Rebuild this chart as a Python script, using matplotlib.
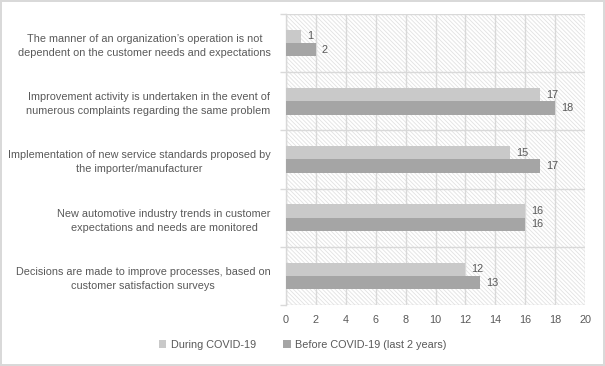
import matplotlib
matplotlib.use('Agg')
import matplotlib.pyplot as plt
import numpy as np
from matplotlib.patches import Rectangle

categories = [
    'The manner of an organization\u2019s operation is not\ndependent on the customer needs and expectations',
    'Improvement activity is undertaken in the event of\nnumerous complaints regarding the same problem',
    'Implementation of new service standards proposed by\nthe importer/manufacturer',
    'New automotive industry trends in customer\nexpectations and needs are monitored',
    'Decisions are made to improve processes, based on\ncustomer satisfaction surveys',
]
during = [1, 17, 15, 16, 12]
before = [2, 18, 17, 16, 13]
series_names = ['During COVID-19', 'Before COVID-19 (last 2 years)']
xticks = list(range(0, 21, 2))

TXT = '#595959'
GRID = '#d9d9d9'
C_LIGHT = '#c9c9c9'
C_DARK = '#a5a5a5'
FS = 7.8

plt.rcParams['font.family'] = ['Liberation Sans', 'DejaVu Sans']
plt.rcParams['hatch.linewidth'] = 0.6
plt.rcParams['hatch.color'] = '#e2e2e2'

fig = plt.figure(figsize=(6.05, 3.66), dpi=100)
fig.patch.set_edgecolor(GRID)
fig.patch.set_linewidth(1.5)
ax = fig.add_axes([286/605, 1 - 305/366, (585-286)/605, (305-14)/366])

# hatched plot background
ax.add_patch(Rectangle((0, 0), 1, 1, transform=ax.transAxes, facecolor='white',
                       edgecolor='#e2e2e2', hatch='\\' * 8, linewidth=0, zorder=0))

y = np.arange(len(categories))
h = 0.23
ax.barh(y - h/2, during, height=h, color=C_LIGHT, zorder=3, label=series_names[0])
ax.barh(y + h/2, before, height=h, color=C_DARK, zorder=3, label=series_names[1])

for yi, d, b in zip(y, during, before):
    ax.text(d + 0.4, yi - h/2, str(d), va='center', ha='left', fontsize=FS, color=TXT, zorder=4)
    ax.text(b + 0.4, yi + h/2, str(b), va='center', ha='left', fontsize=FS, color=TXT, zorder=4)

ax.set_xlim(0, 20)
ax.set_ylim(len(categories) - 0.5, -0.5)
ax.set_xticks(xticks)
ax.set_yticks(y)
ax.set_yticklabels(categories, fontsize=FS, color=TXT, linespacing=1.5)
for lab in ax.get_yticklabels():
    lab.set_multialignment('center')
ax.tick_params(axis='y', length=0, pad=11)
ax.tick_params(axis='x', length=0, labelsize=FS, labelcolor=TXT, pad=7)

ax.set_yticks(np.arange(-0.5, len(categories) + 0.5, 1), minor=True)
ax.tick_params(axis='y', which='minor', length=4, color=GRID, width=1)
ax.grid(True, axis='x', color=GRID, linewidth=1, zorder=1)
ax.grid(True, axis='y', which='minor', color=GRID, linewidth=1, zorder=1)
ax.set_axisbelow(True)
for s in ['top', 'right', 'bottom']:
    ax.spines[s].set_visible(False)
ax.spines['left'].set_color(GRID)
ax.spines['left'].set_linewidth(1)

fig.legend(loc='center', bbox_to_anchor=(0.5, 1 - 345/366), ncol=2, frameon=False,
           fontsize=FS, labelcolor=TXT, handlelength=0.7, handleheight=0.7,
           handletextpad=0.4, columnspacing=2.5)

fig.savefig('out.png', dpi=100)
